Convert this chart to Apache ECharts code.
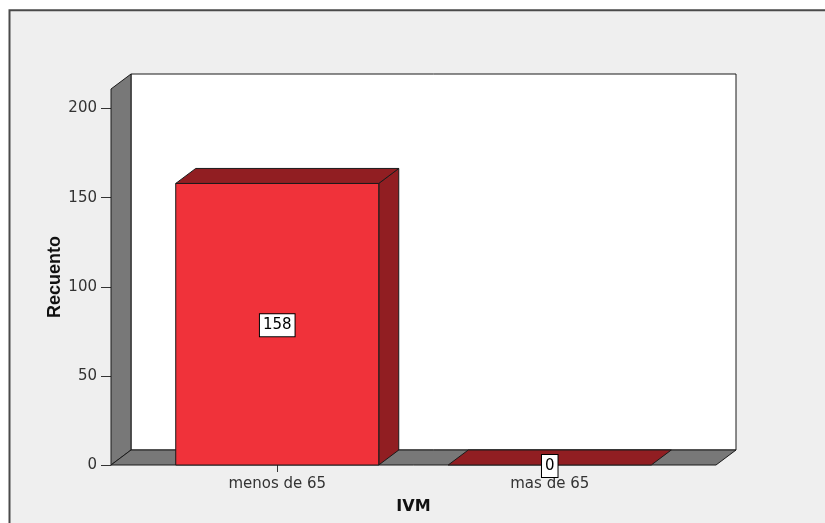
<!DOCTYPE html>
<html>
<head>
<meta charset="utf-8">
<title>IVM</title>
<script src="https://cdn.jsdelivr.net/npm/echarts@6/dist/echarts.min.js"></script>
<style>
  html, body { margin: 0; padding: 0; background: #ffffff; }
  #chart { width: 825px; height: 523px; }
</style>
</head>
<body>
<div id="chart"></div>
<script>
// Counts per IVM group
const categories = ['menos de 65', 'mas de 65'];
const counts = [158, 0];
const yTicks = [0, 50, 100, 150, 200];
const yAxisTop = 211;

// 3D look: depth offset of the box, side padding of the floor, bar width share
const DEPTH_X = 20;
const DEPTH_Y = -15;
const SIDE_PAD = 30;
const BAR_RATIO = 0.745;

const FRONT_RED = '#f0323a';
const DARK_RED = '#911e22';
const PANEL_GRAY = '#787878';
const EDGE = '#1a1a1a';

const chart = echarts.init(document.getElementById('chart'), null, { renderer: 'canvas' });

function wallItem(params, api) {
  const cs = params.coordSys;
  const y0 = api.coord([0, 0])[1];
  const yTop = api.coord([0, yAxisTop])[1];
  const xl = cs.x - SIDE_PAD;
  const xr = cs.x + cs.width + SIDE_PAD;
  const edge = { stroke: EDGE, lineWidth: 1 };
  return {
    type: 'group',
    children: [
      {
        type: 'polygon',
        shape: { points: [[xl + DEPTH_X, yTop + DEPTH_Y], [xr + DEPTH_X, yTop + DEPTH_Y], [xr + DEPTH_X, y0 + DEPTH_Y], [xl + DEPTH_X, y0 + DEPTH_Y]] },
        style: Object.assign({ fill: '#ffffff' }, edge)
      },
      {
        type: 'polygon',
        shape: { points: [[xl, y0], [xl, yTop], [xl + DEPTH_X, yTop + DEPTH_Y], [xl + DEPTH_X, y0 + DEPTH_Y]] },
        style: Object.assign({ fill: PANEL_GRAY }, edge)
      },
      {
        type: 'polygon',
        shape: { points: [[xl, y0], [xr, y0], [xr + DEPTH_X, y0 + DEPTH_Y], [xl + DEPTH_X, y0 + DEPTH_Y]] },
        style: Object.assign({ fill: PANEL_GRAY }, edge)
      }
    ]
  };
}

function barItem(params, api) {
  const idx = api.value(0);
  const v = api.value(1);
  const top = api.coord([idx, v]);
  const y0 = api.coord([idx, 0])[1];
  const cx = top[0];
  const yv = top[1];
  const w = api.size([1, 0])[0] * BAR_RATIO;
  const xl = cx - w / 2;
  const xr = cx + w / 2;
  const edge = { stroke: EDGE, lineWidth: 1 };
  const children = [];
  if (y0 - yv > 0.5) {
    children.push({
      type: 'polygon',
      shape: { points: [[xr, yv], [xr + DEPTH_X, yv + DEPTH_Y], [xr + DEPTH_X, y0 + DEPTH_Y], [xr, y0]] },
      style: Object.assign({ fill: DARK_RED }, edge)
    });
    children.push({
      type: 'rect',
      shape: { x: xl, y: yv, width: w, height: y0 - yv },
      style: Object.assign({ fill: FRONT_RED }, edge)
    });
  }
  children.push({
    type: 'polygon',
    shape: { points: [[xl, yv], [xr, yv], [xr + DEPTH_X, yv + DEPTH_Y], [xl + DEPTH_X, yv + DEPTH_Y]] },
    style: Object.assign({ fill: DARK_RED }, edge)
  });
  children.push({
    type: 'text',
    z2: 10,
    x: cx,
    y: (yv + y0) / 2 + 1,
    style: {
      text: String(v),
      font: '15px "DejaVu Sans"',
      fill: '#000000',
      align: 'center',
      verticalAlign: 'middle',
      backgroundColor: '#ffffff',
      borderColor: '#000000',
      borderWidth: 1,
      padding: [3, 3, 2, 3],
      lineHeight: 17
    }
  });
  return { type: 'group', children: children };
}

const option = {
  backgroundColor: '#ffffff',
  animation: false,
  graphic: [
    {
      type: 'rect',
      z: -10,
      silent: true,
      shape: { x: 9.5, y: 10.3, width: 840, height: 540 },
      style: { fill: '#efefef', stroke: '#4a4a4a', lineWidth: 2 }
    }
  ],
  grid: { left: 141, right: 139, top: 89, bottom: 58 },
  xAxis: {
    type: 'category',
    data: categories,
    offset: 2,
    axisLine: { show: false },
    axisTick: { show: true, alignWithLabel: true, length: 7, lineStyle: { color: '#333333', width: 1 } },
    axisLabel: { margin: 10, fontSize: 15, fontFamily: 'DejaVu Sans', color: '#333333' },
    splitLine: { show: false },
    name: 'IVM',
    nameLocation: 'middle',
    nameGap: 32,
    nameMoveOverlap: false,
    nameTextStyle: { fontSize: 16, fontWeight: 'bold', fontFamily: 'DejaVu Sans', color: '#111111' }
  },
  yAxis: {
    type: 'value',
    min: 0,
    max: yAxisTop,
    interval: 50,
    offset: SIDE_PAD,
    axisLine: { show: false },
    axisTick: { show: true, length: 10, customValues: yTicks, lineStyle: { color: '#333333', width: 1 } },
    axisLabel: { customValues: yTicks, margin: 14, fontSize: 15, fontFamily: 'DejaVu Sans', color: '#333333' },
    splitLine: { show: false },
    name: 'Recuento',
    nameLocation: 'middle',
    nameGap: 47,
    nameMoveOverlap: false,
    nameTextStyle: { fontSize: 18, fontWeight: 'bold', fontFamily: '"Liberation Sans", Arial, sans-serif', color: '#111111' }
  },
  series: [
    {
      type: 'custom',
      name: 'walls',
      silent: true,
      z: 1,
      data: [[0, 0]],
      encode: { x: 0, y: 1 },
      renderItem: wallItem
    },
    {
      type: 'custom',
      name: 'Recuento',
      z: 3,
      data: counts.map(function (v, i) { return [i, v]; }),
      encode: { x: 0, y: 1 },
      renderItem: barItem
    }
  ]
};

chart.setOption(option);
</script>
</body>
</html>
